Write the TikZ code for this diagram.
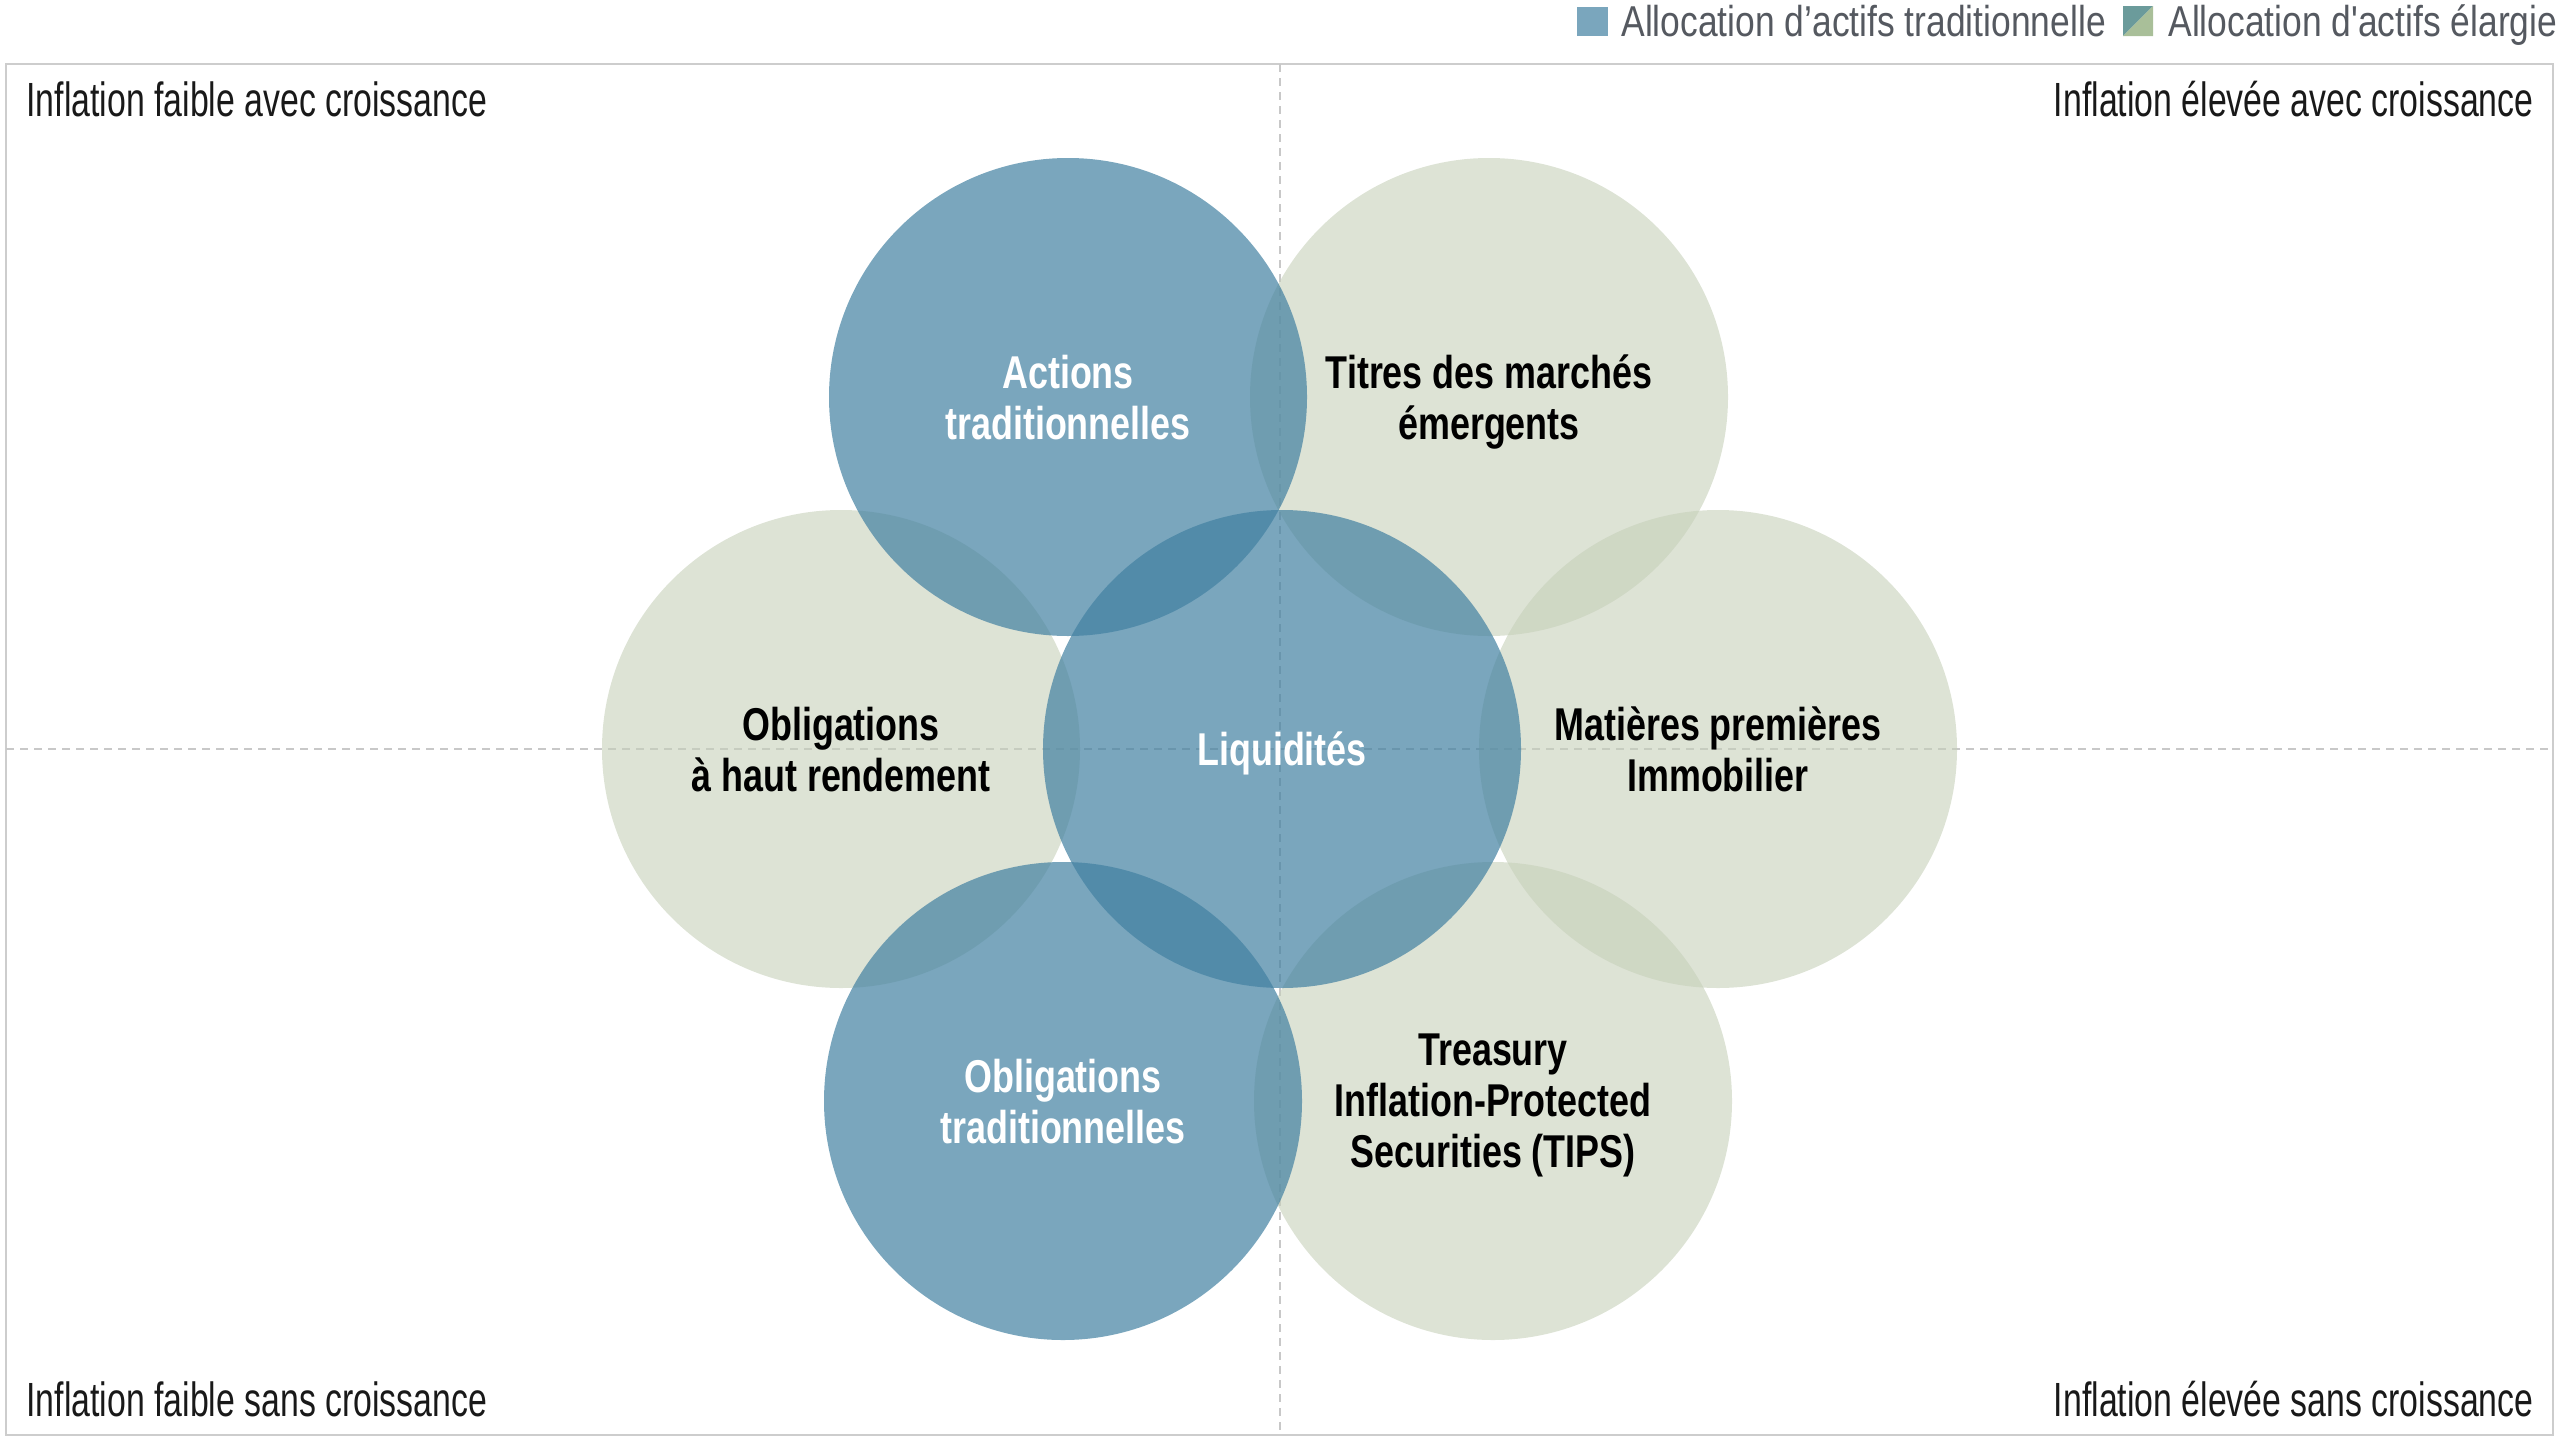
\documentclass[tikz,border=0pt]{standalone}
\usepackage{fontspec}
\setmainfont{Liberation Sans}
\newfontfamily\cornerfont[FakeStretch=0.705]{Liberation Sans}
\newfontfamily\legendfont[FakeStretch=0.82]{Liberation Sans}
\newfontfamily\assetfont[FakeStretch=0.78]{Liberation Sans}
\definecolor{tradblue}{RGB}{65,128,161}
\definecolor{widegreen}{RGB}{198,208,185}
\definecolor{legendblue}{RGB}{122,166,189}
\definecolor{legendteal}{RGB}{107,155,155}
\definecolor{legendgreen}{RGB}{169,191,153}
\definecolor{legendgray}{RGB}{85,89,96}
\definecolor{framegray}{RGB}{205,205,205}
\definecolor{axisgray}{RGB}{200,200,200}
\begin{document}
\begin{tikzpicture}[x=0.5pt,y=-0.5pt,
  quadrant/.style={font=\cornerfont\fontsize{24}{28}\selectfont,text=black!90,inner sep=0pt},
  legendtext/.style={font=\legendfont\fontsize{21.6}{26}\selectfont,text=legendgray,anchor=base west,inner sep=0pt},
  asset/.style={circle,minimum size=239pt,inner sep=0pt,align=center,text depth=0pt,text opacity=1,font=\assetfont\bfseries\fontsize{23}{25.5}\selectfont},
  wide/.style={asset,fill=widegreen,fill opacity=0.6,text=black},
  trad/.style={asset,fill=tradblue,fill opacity=0.7,text=white}]
      \useasboundingbox (0,0) rectangle (2560,1440);
      \draw[framegray,line width=1pt] (6,64) rectangle (2553,1435);
      \draw[axisgray,line width=0.6pt,dash pattern=on 4pt off 3pt] (1280,64)--(1280,1435);
      \draw[axisgray,line width=0.6pt,dash pattern=on 4pt off 3pt] (6,749)--(2553,749);
      \node[quadrant,anchor=base west] (lowgrowth) at (26,116) {Inflation faible avec croissance};
      \node[quadrant,anchor=base east] (highgrowth) at (2534,116) {Inflation élevée avec croissance};
      \node[quadrant,anchor=base west] (lownogrowth) at (26,1416) {Inflation faible sans croissance};
      \node[quadrant,anchor=base east] (highnogrowth) at (2534,1416) {Inflation élevée sans croissance};
      \fill[legendblue] (1577,7) rectangle (1608,36);
      \node[legendtext] (legtrad) at (1621,36) {Allocation d’actifs traditionnelle};
      \fill[legendteal] (2123,36)--(2123,6)--(2153,6)--cycle;
      \fill[legendgreen] (2123,36)--(2153,6)--(2153,36)--cycle;
      \node[legendtext] (legwide) at (2168,36) {Allocation d'actifs élargie};
      \node[wide] (titres) at (1489,397) {Titres des marchés\\émergents};
      \node[wide] (hy) at (841,749) {Obligations\\à haut rendement};
      \node[wide] (matieres) at (1718,749) {Matières premières\\Immobilier};
      \node[wide] (tips) at (1493,1101) {Treasury\\Inflation-Protected\\Securities (TIPS)};
      \node[trad] (actions) at (1068,397) {Actions\\traditionnelles};
      \node[trad] (liquidites) at (1282,749) {Liquidités};
      \node[trad] (obligtrad) at (1063,1101) {Obligations\\traditionnelles};
\end{tikzpicture}
\end{document}
